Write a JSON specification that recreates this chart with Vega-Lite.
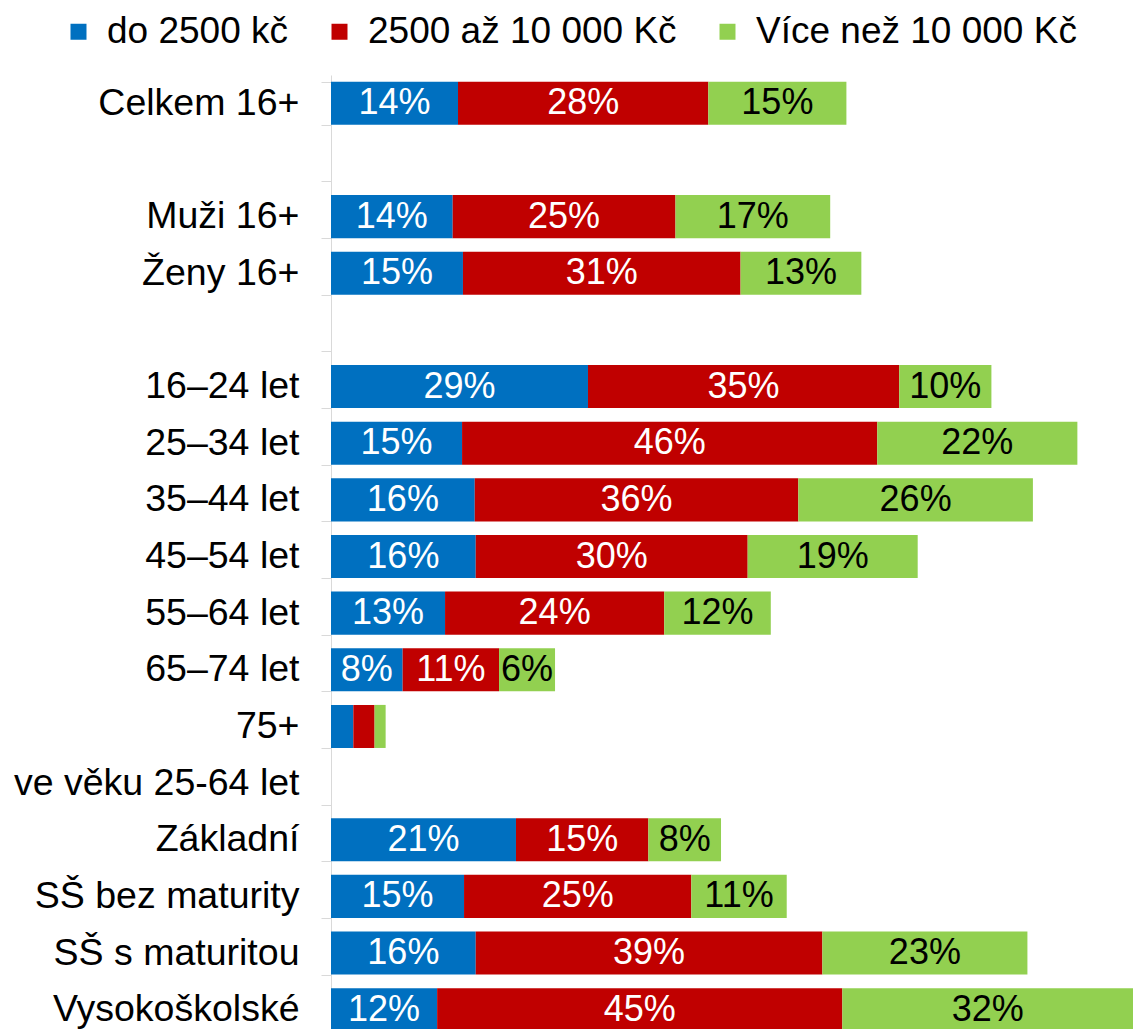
{
  "$schema": "https://vega.github.io/schema/vega-lite/v6.json",
  "autosize": "none",
  "width": 802,
  "height": 963,
  "padding": {"left": 331, "top": 75, "right": 0, "bottom": 0},
  "background": "white",
  "config": {"view": {"stroke": null}, "font": "Liberation Sans"},
  "data": {"values": [
    {"cat": "Celkem 16+", "s": "do 2500 kč", "o": 1, "v": 0.1411},
    {"cat": "Celkem 16+", "s": "2500 až 10 000 Kč", "o": 2, "v": 0.2781},
    {"cat": "Celkem 16+", "s": "Více než 10 000 Kč", "o": 3, "v": 0.1534},
    {"cat": "Muži 16+", "s": "do 2500 kč", "o": 1, "v": 0.1352},
    {"cat": "Muži 16+", "s": "2500 až 10 000 Kč", "o": 2, "v": 0.2475},
    {"cat": "Muži 16+", "s": "Více než 10 000 Kč", "o": 3, "v": 0.1719},
    {"cat": "Ženy 16+", "s": "do 2500 kč", "o": 1, "v": 0.1466},
    {"cat": "Ženy 16+", "s": "2500 až 10 000 Kč", "o": 2, "v": 0.3084},
    {"cat": "Ženy 16+", "s": "Více než 10 000 Kč", "o": 3, "v": 0.1342},
    {"cat": "16–24 let", "s": "do 2500 kč", "o": 1, "v": 0.2855},
    {"cat": "16–24 let", "s": "2500 až 10 000 Kč", "o": 2, "v": 0.3458},
    {"cat": "16–24 let", "s": "Více než 10 000 Kč", "o": 3, "v": 0.1024},
    {"cat": "25–34 let", "s": "do 2500 kč", "o": 1, "v": 0.1456},
    {"cat": "25–34 let", "s": "2500 až 10 000 Kč", "o": 2, "v": 0.4613},
    {"cat": "25–34 let", "s": "Více než 10 000 Kč", "o": 3, "v": 0.2223},
    {"cat": "35–44 let", "s": "do 2500 kč", "o": 1, "v": 0.1597},
    {"cat": "35–44 let", "s": "2500 až 10 000 Kč", "o": 2, "v": 0.3595},
    {"cat": "35–44 let", "s": "Více než 10 000 Kč", "o": 3, "v": 0.2606},
    {"cat": "45–54 let", "s": "do 2500 kč", "o": 1, "v": 0.1608},
    {"cat": "45–54 let", "s": "2500 až 10 000 Kč", "o": 2, "v": 0.3021},
    {"cat": "45–54 let", "s": "Více než 10 000 Kč", "o": 3, "v": 0.1889},
    {"cat": "55–64 let", "s": "do 2500 kč", "o": 1, "v": 0.1267},
    {"cat": "55–64 let", "s": "2500 až 10 000 Kč", "o": 2, "v": 0.2435},
    {"cat": "55–64 let", "s": "Více než 10 000 Kč", "o": 3, "v": 0.1184},
    {"cat": "65–74 let", "s": "do 2500 kč", "o": 1, "v": 0.0796},
    {"cat": "65–74 let", "s": "2500 až 10 000 Kč", "o": 2, "v": 0.1071},
    {"cat": "65–74 let", "s": "Více než 10 000 Kč", "o": 3, "v": 0.0622},
    {"cat": "75+", "s": "do 2500 kč", "o": 1, "v": 0.0248},
    {"cat": "75+", "s": "2500 až 10 000 Kč", "o": 2, "v": 0.0236},
    {"cat": "75+", "s": "Více než 10 000 Kč", "o": 3, "v": 0.0123},
    {"cat": "Základní", "s": "do 2500 kč", "o": 1, "v": 0.2055},
    {"cat": "Základní", "s": "2500 až 10 000 Kč", "o": 2, "v": 0.1471},
    {"cat": "Základní", "s": "Více než 10 000 Kč", "o": 3, "v": 0.0807},
    {"cat": "SŠ bez maturity", "s": "do 2500 kč", "o": 1, "v": 0.1478},
    {"cat": "SŠ bez maturity", "s": "2500 až 10 000 Kč", "o": 2, "v": 0.2525},
    {"cat": "SŠ bez maturity", "s": "Více než 10 000 Kč", "o": 3, "v": 0.1060},
    {"cat": "SŠ s maturitou", "s": "do 2500 kč", "o": 1, "v": 0.1608},
    {"cat": "SŠ s maturitou", "s": "2500 až 10 000 Kč", "o": 2, "v": 0.3851},
    {"cat": "SŠ s maturitou", "s": "Více než 10 000 Kč", "o": 3, "v": 0.2278},
    {"cat": "Vysokoškolské", "s": "do 2500 kč", "o": 1, "v": 0.1179},
    {"cat": "Vysokoškolské", "s": "2500 až 10 000 Kč", "o": 2, "v": 0.4502},
    {"cat": "Vysokoškolské", "s": "Více než 10 000 Kč", "o": 3, "v": 0.3230}
  ]},
  "transform": [
    {"stack": "v", "groupby": ["cat"], "sort": [{"field": "o", "order": "ascending"}], "as": ["v0", "v1"]}
  ],
  "encoding": {
    "y": {
      "field": "cat",
      "type": "nominal",
      "title": null,
      "scale": {
        "domain": ["Celkem 16+", " ", "Muži 16+", "Ženy 16+", "  ", "16–24 let", "25–34 let", "35–44 let", "45–54 let", "55–64 let", "65–74 let", "75+", "ve věku 25-64 let", "Základní", "SŠ bez maturity", "SŠ s maturitou", "Vysokoškolské"],
        "paddingInner": 0.24,
        "paddingOuter": 0.12
      },
      "axis": {
        "title": null,
        "labelFontSize": 37.5,
        "labelColor": "black",
        "labelPadding": 22,
        "labelLimit": 0,
        "tickSize": 10,
        "tickColor": "#d9d9d9",
        "domainColor": "#d9d9d9",
        "tickBand": "extent",
        "grid": false
      }
    }
  },
  "layer": [
    {
      "mark": {"type": "bar"},
      "encoding": {
        "x": {"field": "v0", "type": "quantitative", "scale": {"domain": [0, 0.891], "nice": false, "zero": true}, "axis": null},
        "x2": {"field": "v1"},
        "color": {
          "field": "s",
          "type": "nominal",
          "sort": null,
          "scale": {"domain": ["do 2500 kč", "2500 až 10 000 Kč", "Více než 10 000 Kč"], "range": ["#0070C0", "#C00000", "#92D050"]},
          "legend": {
            "title": null,
            "orient": "none",
            "legendX": -271,
            "legendY": -62,
            "direction": "horizontal",
            "symbolType": "square",
            "symbolSize": 256,
            "symbolStrokeWidth": 0,
            "labelFontSize": 37,
            "labelColor": "black",
            "labelOffset": 10,
            "columnPadding": 32,
            "labelLimit": 0,
            "padding": 0
          }
        }
      }
    },
    {
      "transform": [
        {"filter": "datum.v >= 0.04"},
        {"calculate": "(datum.v0 + datum.v1) / 2", "as": "mid"}
      ],
      "mark": {"type": "text", "fontSize": 36, "baseline": "middle", "align": "center"},
      "encoding": {
        "x": {"field": "mid", "type": "quantitative"},
        "text": {"field": "v", "type": "quantitative", "format": ".0%"},
        "color": {"condition": {"test": "datum.o === 3", "value": "black"}, "value": "white"}
      }
    }
  ]
}
